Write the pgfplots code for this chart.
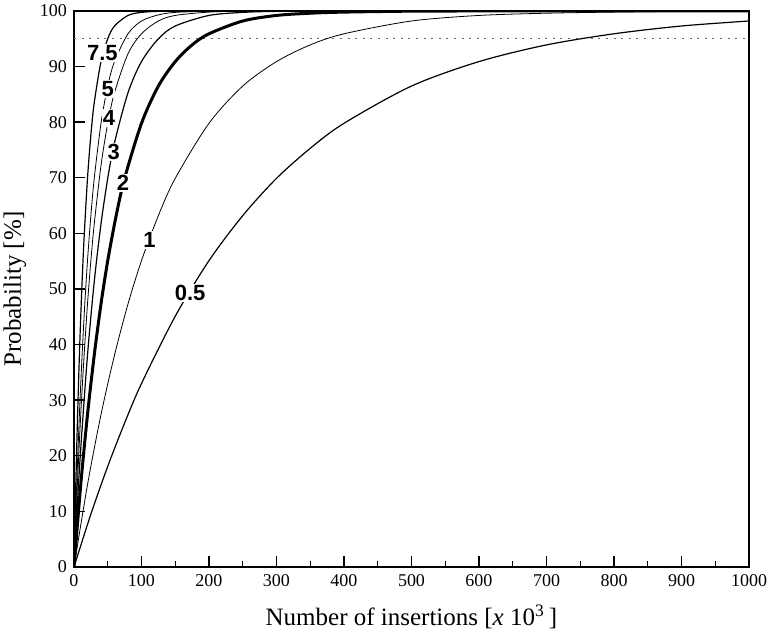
\documentclass[border=0pt]{standalone}
\usepackage{fontspec}
\setmainfont{Liberation Serif}
\newfontfamily\labelfont{Liberation Sans}
\usepackage{pgfplots}
\pgfplotsset{compat=1.18}

\begin{document}
\begin{tikzpicture}
\begin{axis}[
  scale only axis,
  width=337.5pt, height=278pt,
  xmin=0, xmax=1000, ymin=0, ymax=100,
  xtick={0,100,...,1000},
  minor xtick={50,150,...,950},
  ytick={0,10,...,100},
  tick align=inside,
  xtick pos=bottom, ytick pos=left,
  major tick length=5.5pt, minor tick length=3pt,
  tick style={line width=0.7pt, black},
  axis line style={line width=0.8pt},
  tick label style={font=\fontsize{9}{10}\selectfont},
  /pgf/number format/assume math mode=true,
  /pgf/number format/1000 sep={},
  xlabel={Number of insertions [\textit{x} 10\textsuperscript{3}\,]},
  ylabel={Probability [\%]},
  every axis x label/.style={at={(axis description cs:0.5,0)}, yshift=-25pt, anchor=center, font=\fontsize{12.5}{14}\selectfont},
  every axis y label/.style={at={(axis description cs:0,0.5)}, xshift=-29.5pt, rotate=90, anchor=center, font=\fontsize{12.5}{14}\selectfont},
  cycle list={{black, line width=0.6pt, no markers}},
]
% 95% level
\addplot[gray!80!black, line width=0.7pt, dash pattern=on 1pt off 2.8pt] coordinates {(0,95) (1000,95)};
% 7.5
\addplot+[smooth] coordinates {(0,0) (3,16.5) (6,30.2) (9,41.7) (12,51.3) (15,59.3) (20,69.9) (25,77.7) (30,83.5) (40,90.9) (50,95.0) (60,97.3) (80,99.2) (100,99.75) (125,99.94) (150,100) (1000,100)};
% 5
\addplot+[smooth] coordinates {(0,0) (4,14.8) (8,27.4) (12,38.1) (16,47.3) (20,55.1) (25,63.2) (30,69.9) (40,79.8) (50,86.5) (60,90.9) (80,95.9) (100,98.2) (125,99.3) (150,99.75) (200,99.97) (250,100) (1000,100)};
% 4
\addplot+[smooth] coordinates {(0,0) (5,14.8) (10,27.4) (15,38.1) (20,47.3) (25,55.1) (30,61.7) (40,72.2) (50,79.8) (60,85.3) (80,92.3) (100,95.9) (125,98.2) (150,99.2) (200,99.8) (250,99.97) (300,100) (1000,100)};
% 3
\addplot+[smooth] coordinates {(0,0) (5,11.3) (10,21.3) (20,38.1) (30,51.3) (40,61.7) (50,69.9) (60,76.3) (80,85.3) (100,90.9) (125,95.0) (150,97.3) (200,99.2) (250,99.75) (300,99.93) (400,100) (1000,100)};
% 2 (thick)
\addplot+[smooth, line width=1.5pt] coordinates {(0,0) (10,14.8) (20,27.4) (30,38.1) (40,47.3) (50,55.1) (62.5,63.2) (75,69.9) (100,79.8) (125,86.5) (150,90.9) (175,93.9) (200,95.9) (250,98.2) (300,99.2) (350,99.6) (400,99.8) (500,99.97) (600,100) (1000,100)};
% 1
\addplot+[smooth] coordinates {(0,0) (20,14.8) (40,27.4) (60,38.1) (80,47.3) (100,55.1) (125,63.2) (150,69.9) (200,79.8) (250,86.5) (300,90.9) (350,93.9) (400,95.9) (500,98.2) (600,99.2) (700,99.6) (800,99.8) (900,99.93) (1000,99.97)};
% 0.5
\addplot+[smooth] coordinates {(0,0) (25,9.5) (50,18.1) (75,25.9) (100,33.0) (150,45.1) (200,55.1) (250,63.2) (300,69.9) (350,75.3) (400,79.8) (500,86.5) (600,90.9) (700,93.9) (800,95.9) (900,97.3) (1000,98.2)};
% curve labels
\tikzset{cl/.style={fill=white, inner sep=0.6pt, font=\labelfont\bfseries\fontsize{11}{12}\selectfont}}
\node[cl] at (axis cs:42,92.4) {7.5};
\node[cl] at (axis cs:50,86) {5};
\node[cl] at (axis cs:52,80.8) {4};
\node[cl] at (axis cs:59,74.6) {3};
\node[cl] at (axis cs:72.6,69.1) {2};
\node[cl] at (axis cs:112,58.8) {1};
\node[cl] at (axis cs:172,49.3) {0.5};
\end{axis}
\pgfresetboundingbox
\path (current axis.south west) ++(-37pt,-34.5pt) coordinate (bbA);
\path (current axis.north east) ++(9pt,5.5pt) coordinate (bbB);
\path (bbA) rectangle (bbB);
\end{tikzpicture}
\end{document}
